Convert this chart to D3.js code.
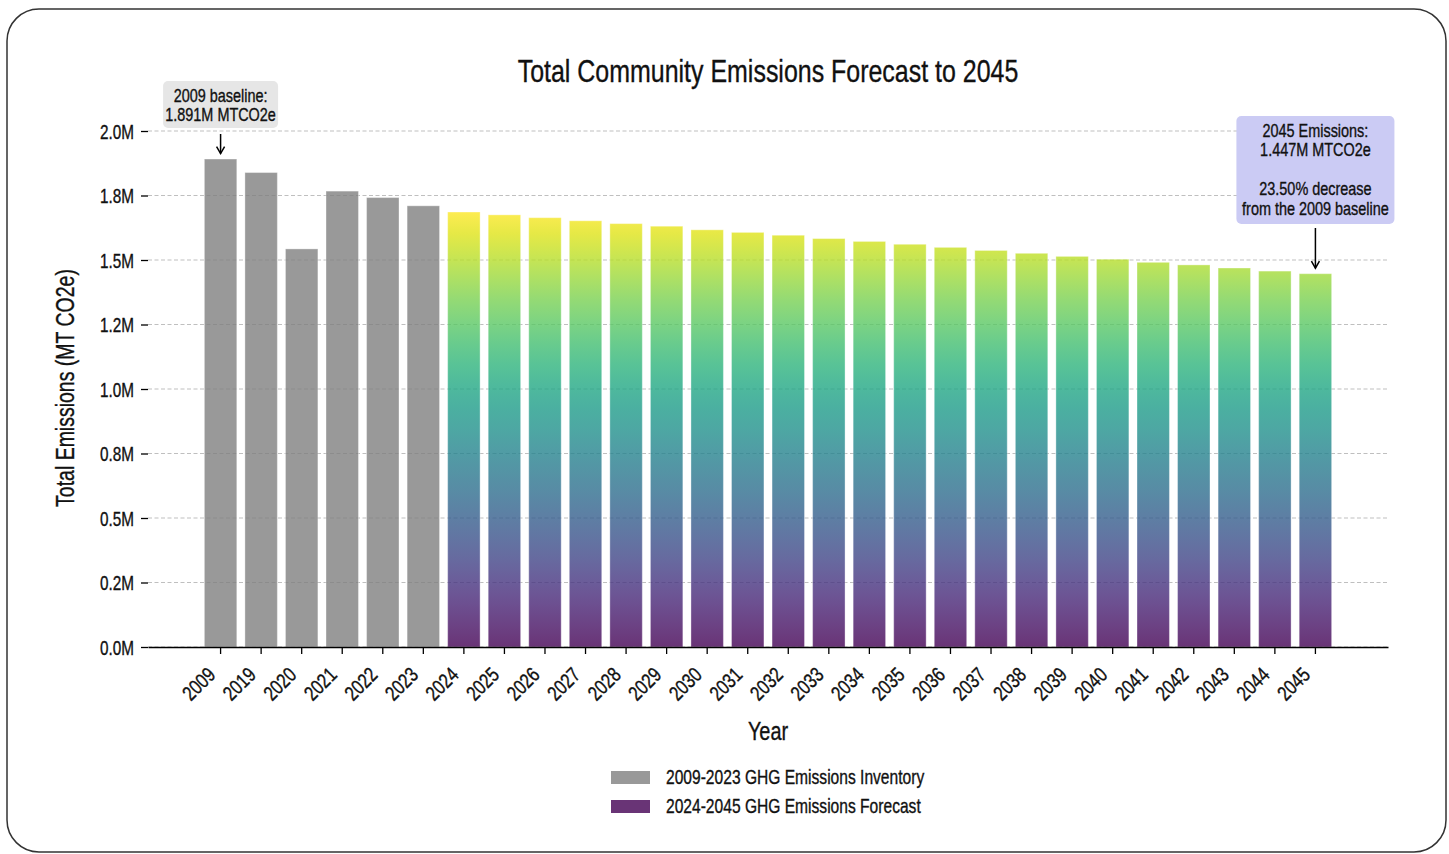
<!DOCTYPE html>
<html>
<head>
<meta charset="utf-8">
<script src="https://cdn.jsdelivr.net/npm/d3@7/dist/d3.min.js"></script>
<style>
  html, body { margin: 0; padding: 0; background: #fff; }
  svg { display: block; }
  text { font-family: "Liberation Sans", Arial, sans-serif; fill: #111; stroke: #111; stroke-width: 0.35px; }
</style>
</head>
<body>
<svg id="chart" width="1449" height="854"></svg>
<script>
// Community GHG emissions, MT CO2e
const inventoryYears = ["2009", "2019", "2020", "2021", "2022", "2023"];
const inventoryValues = [1891400, 1839000, 1543000, 1767000, 1742000, 1710000];

const forecastYears = ["2024", "2025", "2026", "2027", "2028", "2029", "2030", "2031",
  "2032", "2033", "2034", "2035", "2036", "2037", "2038", "2039", "2040", "2041",
  "2042", "2043", "2044", "2045"];
const forecastValues = [1686000, 1675000, 1664000, 1652000, 1641000, 1631000, 1617000,
  1607000, 1596000, 1583000, 1572000, 1561000, 1549000, 1537000, 1526000, 1514000,
  1503000, 1491000, 1481000, 1469000, 1457000, 1446900];

const yTickValues = [0, 250000, 500000, 750000, 1000000, 1250000, 1500000, 1750000, 2000000];
const yTickLabels = ["0.0M", "0.2M", "0.5M", "0.8M", "1.0M", "1.2M", "1.5M", "1.8M", "2.0M"];

const legendLabels = ["2009-2023 GHG Emissions Inventory", "2024-2045 GHG Emissions Forecast"];

const allYears = inventoryYears.concat(forecastYears);
const svg = d3.select("#chart");

// narrow lettering: horizontal squeeze applied to every label
const SQ = 0.78;
const narrow = (tx, ty, rot = 0, sq = SQ) => `translate(${tx},${ty}) rotate(${rot}) scale(${sq},1)`;

// outer rounded frame
svg.append("rect")
  .attr("x", 7).attr("y", 9).attr("width", 1439).attr("height", 843)
  .attr("rx", 32).attr("ry", 32)
  .attr("fill", "#fff").attr("stroke", "#333").attr("stroke-width", 1.5);

const plot = { left: 148, right: 1388, top: 131, bottom: 647 };

const x = d3.scaleBand()
  .domain(allYears)
  .range([plot.left, plot.right])
  .paddingInner(0.2)
  .paddingOuter(1.39);

const y = d3.scaleLinear()
  .domain([0, 2000000])
  .range([plot.bottom, plot.top]);

// gridlines
svg.append("g").selectAll("line")
  .data(yTickValues)
  .join("line")
  .attr("x1", plot.left).attr("x2", plot.right)
  .attr("y1", d => y(d)).attr("y2", d => y(d))
  .attr("stroke", "#b8b8b8").attr("stroke-width", 0.9)
  .attr("stroke-dasharray", "4,2.5");

// vertical viridis gradient shared by the forecast bars
const defs = svg.append("defs");
const grad = defs.append("linearGradient")
  .attr("id", "viridisGrad")
  .attr("gradientUnits", "userSpaceOnUse")
  .attr("x1", 0).attr("x2", 0)
  .attr("y1", y(0)).attr("y2", y(d3.max(forecastValues)));
d3.range(0, 1.0001, 0.05).forEach(t => {
  grad.append("stop").attr("offset", t).attr("stop-color", d3.interpolateViridis(t));
});

// inventory bars
svg.append("g").selectAll("rect")
  .data(inventoryYears.map((yr, i) => ({ year: yr, value: inventoryValues[i] })))
  .join("rect")
  .attr("x", d => x(d.year))
  .attr("width", x.bandwidth())
  .attr("y", d => y(d.value))
  .attr("height", d => y(0) - y(d.value))
  .attr("fill", "#808080").attr("fill-opacity", 0.8)
  .attr("stroke", "#fff").attr("stroke-opacity", 0.35).attr("stroke-width", 1);

// forecast bars
svg.append("g").selectAll("rect")
  .data(forecastYears.map((yr, i) => ({ year: yr, value: forecastValues[i] })))
  .join("rect")
  .attr("x", d => x(d.year))
  .attr("width", x.bandwidth())
  .attr("y", d => y(d.value))
  .attr("height", d => y(0) - y(d.value))
  .attr("fill", "url(#viridisGrad)").attr("fill-opacity", 0.8)
  .attr("stroke", "#fff").attr("stroke-opacity", 0.35).attr("stroke-width", 1);

// y axis (ticks only, no spine)
const yAxis = svg.append("g")
  .attr("transform", `translate(${plot.left},0)`)
  .call(d3.axisLeft(y).tickValues(yTickValues).tickFormat((d, i) => yTickLabels[i]).tickSize(7));
yAxis.select(".domain").remove();
yAxis.selectAll(".tick line").attr("stroke", "#000").attr("stroke-width", 1.3);
yAxis.selectAll(".tick text")
  .attr("font-size", 20).attr("fill", "#111")
  .attr("x", 0).attr("dy", "0.36em")
  .attr("transform", narrow(-14, 0, 0, 0.765));

// x axis
const xAxis = svg.append("g")
  .attr("transform", `translate(0,${plot.bottom})`)
  .call(d3.axisBottom(x).tickSize(7).tickSizeOuter(0).tickPadding(0));
xAxis.select(".domain").attr("stroke", "#000").attr("stroke-width", 1.3);
xAxis.selectAll(".tick line").attr("stroke", "#000").attr("stroke-width", 1.3);
xAxis.selectAll(".tick text")
  .attr("font-size", 20.5).attr("fill", "#111")
  .attr("text-anchor", "end")
  .attr("dy", null)
  .attr("y", 0)
  .attr("transform", narrow(-4, 29, -45, 0.8));
svg.selectAll("g[font-family]").attr("font-family", null);
svg.selectAll("g[font-size]").attr("font-size", null);

// titles
svg.append("text")
  .attr("transform", narrow(768, 82))
  .attr("text-anchor", "middle")
  .attr("font-size", 32)
  .text("Total Community Emissions Forecast to 2045");

svg.append("text")
  .attr("transform", narrow(768, 740))
  .attr("text-anchor", "middle")
  .attr("font-size", 25.5)
  .text("Year");

svg.append("text")
  .attr("transform", narrow(74, (plot.top + plot.bottom) / 2 - 1, -90))
  .attr("text-anchor", "middle")
  .attr("font-size", 25)
  .text("Total Emissions (MT CO2e)");

// annotations
const fmtM = v => (v / 1e6).toFixed(3) + "M MTCO2e";
const baseline = inventoryValues[0];
const final = forecastValues[forecastValues.length - 1];
const decrease = (1 - final / baseline) * 100;

function arrow(xc, y0, y1) {
  svg.append("line")
    .attr("x1", xc).attr("x2", xc).attr("y1", y0).attr("y2", y1)
    .attr("stroke", "#000").attr("stroke-width", 1.5);
  svg.append("path")
    .attr("d", `M${xc - 4},${y1 - 7} L${xc},${y1} L${xc + 4},${y1 - 7}`)
    .attr("fill", "none").attr("stroke", "#000").attr("stroke-width", 1.5);
}

function noteBox(cx, top, w, h, fill, lines, lineH, firstBase) {
  svg.append("rect")
    .attr("x", cx - w / 2).attr("y", top).attr("width", w).attr("height", h)
    .attr("rx", 5).attr("ry", 5).attr("fill", fill);
  const t = svg.append("text")
    .attr("transform", narrow(cx, top))
    .attr("text-anchor", "middle").attr("font-size", 18.5);
  lines.forEach((ln, i) => {
    t.append("tspan").attr("x", 0).attr("y", firstBase + i * lineH).text(ln);
  });
}

const x2009 = x(inventoryYears[0]) + x.bandwidth() / 2;
noteBox(x2009, 81, 115, 47, "#e6e6e6",
  ["2009 baseline:", fmtM(baseline)], 19.4, 20.7);
arrow(x2009, 134, y(baseline) - 5.5);

const x2045 = x(forecastYears[forecastYears.length - 1]) + x.bandwidth() / 2;
noteBox(x2045, 116, 158, 108, "#cbcbf4",
  ["2045 Emissions:", fmtM(final), "", decrease.toFixed(2) + "% decrease", "from the 2009 baseline"], 19.5, 20.7);
arrow(x2045, 228, y(final) - 5.5);

// legend
const legend = svg.append("g");
const legendColors = ["#808080", d3.interpolateViridis(0)];
legendLabels.forEach((lab, i) => {
  const ly = 777 + i * 29;
  legend.append("rect")
    .attr("x", 611).attr("y", ly - 6).attr("width", 39).attr("height", 13)
    .attr("fill", legendColors[i]).attr("fill-opacity", 0.8);
  legend.append("text")
    .attr("transform", narrow(666, ly + 7))
    .attr("font-size", 20)
    .text(lab);
});
</script>
</body>
</html>
